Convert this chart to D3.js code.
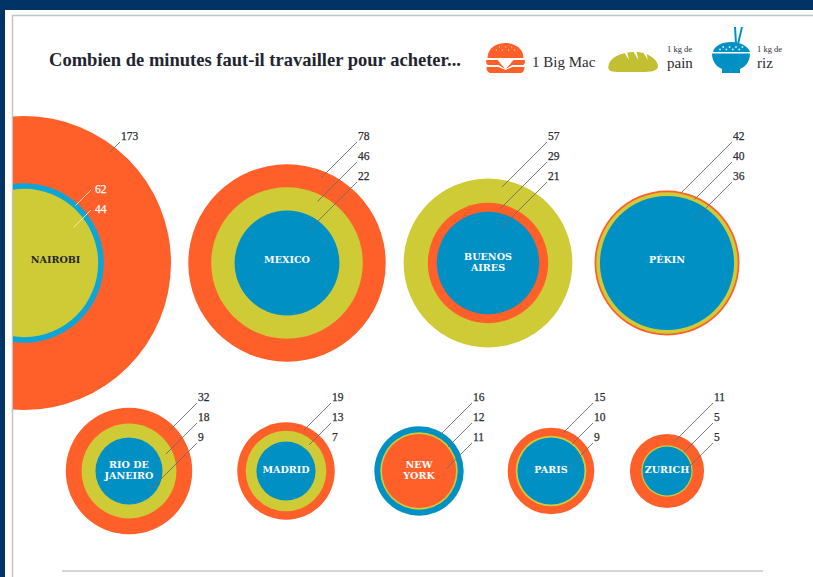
<!DOCTYPE html>
<html>
<head>
<meta charset="utf-8">
<script src="https://cdn.jsdelivr.net/npm/d3@7"></script>
<style>
    html, body { margin: 0; padding: 0; background: #003366; overflow: hidden; }
    text { font-family: "Liberation Serif", serif; fill: #2b2b33; }
    .city { font-family: "DejaVu Serif", serif; font-weight: bold; font-size: 9.6px; text-anchor: middle; }
    .num { font-size: 11.5px; stroke-width: 0.25px; }
</style>
</head>
<body>
<div id="chart"></div>
<script>
const cities = ["NAIROBI", "MEXICO", "BUENOS AIRES", "PÉKIN", "RIO DE JANEIRO", "MADRID", "NEW YORK", "PARIS", "ZURICH"];
const cityLines = [["NAIROBI"], ["MEXICO"], ["BUENOS", "AIRES"], ["PÉKIN"], ["RIO DE", "JANEIRO"], ["MADRID"], ["NEW", "YORK"], ["PARIS"], ["ZURICH"]];

// minutes of work, printed values are rounded (Zurich's 5 and 5 are slightly apart in the picture)
const bigMac = [173, 78, 29, 42, 32, 19, 11, 15, 11];
const pain = [44, 46, 57, 40, 18, 13, 12, 10, 5.3];
const riz = [62, 22, 21, 36, 9, 7, 16, 9, 4.8];

// the Nairobi rice ring is printed as 62 but the source draws it at about 51
const rizDrawn = [51, 22, 21, 36, 9, 7, 16, 9, 4.8];

const foods = ["bigMac", "pain", "riz"];
const foodColors = ["#ff5f29", "#cfcb36", "#0090c4"];

const width = 813, height = 577;

let svg = d3.select("#chart").append("svg")
    .attr("width", width)
    .attr("height", height)
    .style("display", "block");

// page background
svg.append("rect").attr("x", 5).attr("y", 10).attr("width", width - 5).attr("height", height - 10).attr("fill", "#fff");
svg.append("path").attr("d", "M12.5,577V15.5H813").attr("fill", "none").attr("stroke", "#c4c4c4").attr("stroke-width", 1.5);
svg.append("line").attr("x1", 62).attr("x2", 763).attr("y1", 571).attr("y2", 571).attr("stroke", "#c8c8c8").attr("stroke-width", 1.5);

svg.append("clipPath").attr("id", "panelClip")
    .append("rect").attr("x", 13).attr("y", 16).attr("width", width).attr("height", height);

// scales
let r = d3.scaleSqrt().domain([0, 173]).range([0, 147]);
let color = d3.scaleOrdinal().domain(foods).range(foodColors);
let centerX = d3.scaleOrdinal().domain(cities).range([24, 287, 488, 667, 129, 286, 419, 551, 667]);
let centerY = d3.scaleOrdinal().domain(cities).range([263, 263, 263, 263, 471, 471, 471, 471, 471]);
let leaderX = d3.scaleOrdinal().domain(cities).range([120, 357, 547, 732, 197, 331, 472, 593, 713]);
let rowY = d3.scaleOrdinal().domain([0, 1, 2]).range([0, 20, 40]);

let data = cities.map(function(city, i) {
    let rings = [
        {food: "bigMac", value: bigMac[i], drawn: bigMac[i]},
        {food: "pain", value: pain[i], drawn: pain[i]},
        {food: "riz", value: riz[i], drawn: rizDrawn[i]}
    ];
    rings.sort(function(a, b) { return b.drawn - a.drawn; });
    return {city: city, lines: cityLines[i], rings: rings, row: i < 4 ? 0 : 1};
});

const chart = svg.append("g");

let groups = chart.selectAll("g.cityGroup")
    .data(data)
    .enter().append("g")
    .attr("class", "cityGroup");

groups.append("g")
    .attr("clip-path", "url(#panelClip)")
    .selectAll("circle")
    .data(function(d) { return d.rings.map(function(e) { return Object.assign({city: d.city}, e); }); })
    .enter().append("circle")
    .attr("cx", function(d) { return centerX(d.city); })
    .attr("cy", function(d) { return centerY(d.city); })
    .attr("r", function(d) { return r(d.drawn); })
    .attr("fill", function(d) { return color(d.food); });

// the one lighter blue ring in the source
groups.filter(function(d) { return d.city === "NAIROBI"; })
    .selectAll("circle")
    .filter(function(d) { return d.food === "riz"; })
    .attr("fill", "#0ca5d8");

// leader lines go at 45 degrees from the number into their ring
function leaderEnd(d, k) {
    let cx = centerX(d.city), cy = centerY(d.city);
    let lx = leaderStartX(d, k), ly = leaderStartY(d, k);
    let ring = d.rings[k];
    let next = d.rings[k + 1];
    let inset = next ? Math.min(7, (r(ring.drawn) - r(next.drawn)) / 2) : Math.min(13, r(ring.drawn) * 0.25);
    let target = r(ring.drawn) - inset;
    let dx = lx - cx, dy = ly - cy;
    let b = -dx + dy;
    let c = dx * dx + dy * dy - target * target;
    let t = (-b - Math.sqrt(Math.max(0, b * b - 2 * c))) / 2;
    return [lx - t, ly + t];
}

function leaderStartX(d, k) {
    if (d.city === "NAIROBI" && k > 0) { return 91; }
    return leaderX(d.city);
}

function leaderStartY(d, k) {
    if (d.city === "NAIROBI") { return k === 0 ? 142 : 170 + rowY(k); }
    return (d.row === 0 ? 142 : 403) + rowY(k);
}

groups.each(function(d) {
    let g = d3.select(this);
    d.rings.forEach(function(ring, k) {
        let white = d.city === "NAIROBI" && k > 0;
        let end = leaderEnd(d, k);
        let x0 = leaderStartX(d, k), y0 = leaderStartY(d, k);
        // Madrid's 7 has no line in the source
        if (!(d.city === "MADRID" && k === 2)) {
            g.append("line")
                .attr("x1", x0).attr("y1", y0)
                .attr("x2", end[0]).attr("y2", end[1])
                .attr("stroke", white ? "#f3e9c8" : "#6d6d6d")
                .attr("stroke-width", 0.9);
        }
        g.append("text")
            .attr("class", "num")
            .attr("x", x0 + (white ? 4 : 1))
            .attr("y", white ? y0 + 3 : y0 - 2)
            .style("fill", white ? "#fff" : "#2b2b33")
            .style("stroke", white ? "#fff" : "#2b2b33")
            .text(d3.format(".0f")(ring.value));
    });

    // city name sits in the middle of the visible part of the circle
    let inner = d.rings[d.rings.length - 1];
    let cx = centerX(d.city);
    let labelX = d.city === "NAIROBI" ? (13 + cx + r(inner.drawn)) / 2 : cx;
    let shift = d.lines.length > 1 ? -3.5 : (d.row === 1 ? 2 : 0);
    let text = g.append("text")
        .attr("class", "city")
        .attr("x", labelX)
        .attr("y", centerY(d.city) + shift)
        .style("fill", d.city === "NAIROBI" ? "#22252f" : "#fff");
    d.lines.forEach(function(line, i) {
        text.append("tspan").attr("x", labelX).attr("dy", i === 0 ? 0 : 11.5).text(line);
    });
});

// title
svg.append("text")
    .attr("x", 49)
    .attr("y", 66)
    .attr("textLength", 412)
    .attr("lengthAdjust", "spacingAndGlyphs")
    .style("font-size", "19px")
    .style("font-weight", "bold")
    .style("fill", "#22252f")
    .text("Combien de minutes faut-il travailler pour acheter...");

// legend
const legend = svg.append("g");

// burger
const burger = legend.append("g").attr("transform", "translate(505.5,0)").attr("fill", foodColors[0]);
burger.append("path").attr("d", "M-18,58 C-18,38 18,38 18,58 Z");
burger.append("path").attr("d", "M-19,60 H19 V63 H-19 Z");
burger.append("path").attr("d", "M-19,60 H-8 L0,69 L8,60 H19 C20,64 18,65 16,65 H7 L0,69 L-7,65 H-16 C-18,65 -20,64 -19,60 Z");
burger.append("path").attr("d", "M-19,67 H-7 L0,70 L7,67 H19 C19,71 17,73 14,73 H-14 C-17,73 -19,71 -19,67 Z");
burger.append("path").attr("d", "M-8,60 H8 L0,69 Z").attr("fill", "#fff");
burger.selectAll("circle.seed")
    .data(d3.range(7))
    .enter().append("circle")
    .attr("cx", function(d) { return -9 + d * 3; })
    .attr("cy", function(d) { return d % 2 ? 47 : 50; })
    .attr("r", 0.7)
    .attr("fill", "#ffd0bd");
legend.append("text").attr("x", 532).attr("y", 67).style("font-size", "15px").text("1 Big Mac");

// bread
legend.append("path")
    .attr("d", "M608.5,66 C610,57 622,52 635,52 C648,52 658,60 658,66 C658,71 652,72 640,72 L620,72 C612,72 607,71 608.5,66 Z")
    .attr("fill", "#c3bf33");
legend.selectAll("path.cut")
    .data([0, 1, 2])
    .enter().append("path")
    .attr("d", "M0,0 L3,0 L5,8 Z")
    .attr("transform", function(d) { return "translate(" + (624 + d * 9.5) + ",52)"; })
    .attr("fill", "#fff");
legend.append("text").attr("x", 667).attr("y", 51.5).style("font-size", "8.5px").text("1 kg de");
legend.append("text").attr("x", 667).attr("y", 67.5).style("font-size", "15px").text("pain");

// bowl
const bowl = legend.append("g").attr("fill", "#0090c4");
bowl.append("path").attr("d", "M734,27 L736,27 L737,44 L735,44 Z M741,27 L743,27 L739,44 L737,44 Z");
bowl.append("path").attr("d", "M713,52 C714,46 722,42 731,42 C740,42 748,46 750,52 Z");
bowl.append("path").attr("d", "M712,53.5 H750 C750,62 745,67 740,69 V73 H722 V69 C717,67 712,62 712,53.5 Z");
bowl.selectAll("circle.rice")
    .data(d3.range(8))
    .enter().append("circle")
    .attr("cx", function(d) { return 720 + d * 3.2; })
    .attr("cy", function(d) { return d % 2 ? 47 : 49.5; })
    .attr("r", 0.9)
    .attr("fill", "#d5eef7");
legend.append("text").attr("x", 757).attr("y", 51.5).style("font-size", "8.5px").text("1 kg de");
legend.append("text").attr("x", 757).attr("y", 67.5).style("font-size", "15px").text("riz");
</script>
</body>
</html>
